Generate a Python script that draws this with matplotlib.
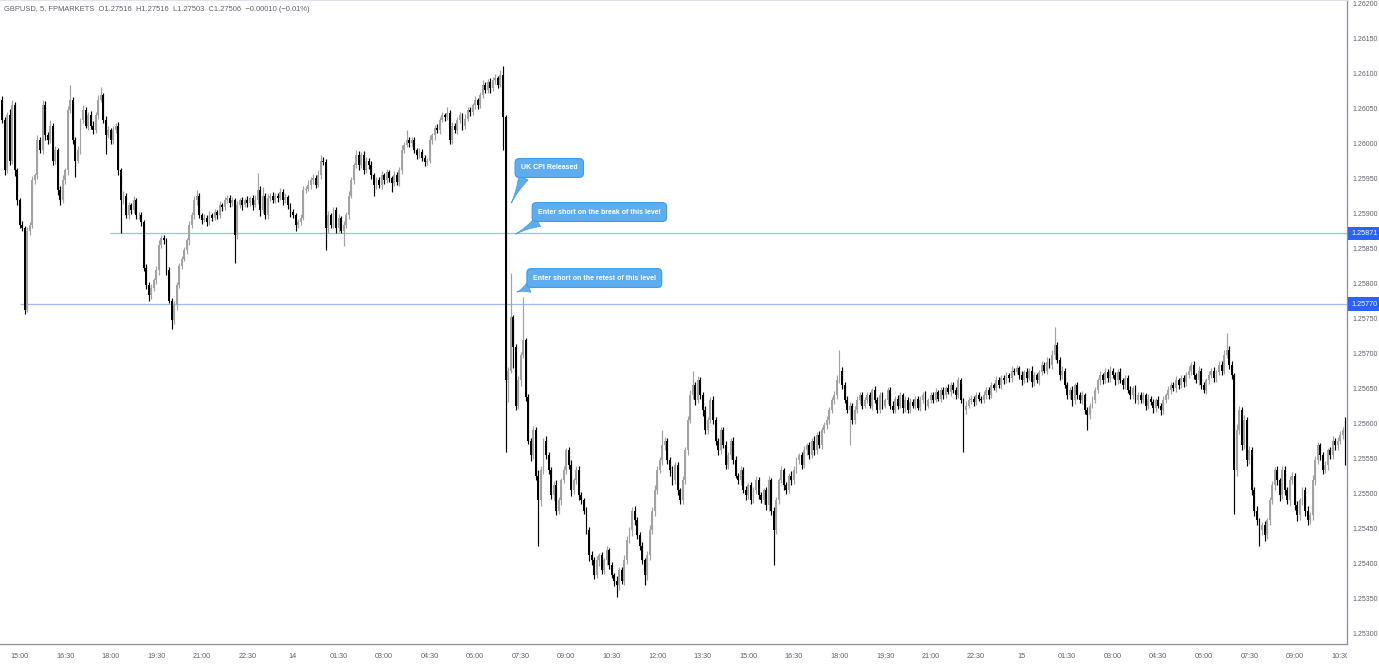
# -*- coding: utf-8 -*-

import numpy as np
import matplotlib
matplotlib.use('Agg')
import matplotlib.pyplot as plt
from matplotlib.transforms import Bbox, TransformedBbox, blended_transform_factory

#####################################################################################################
# Data: GBPUSD 5-minute candles, prices in 1e-5 above 1.25000 (871 -> 1.25871)

BASE = 1.25
OPEN_FIRST = 1061

CLOSE_PTS = [
    1033, 961, 1040, 975, 1054, 961, 918, 883, 878, 761, 875, 883, 947, 954, 1004, 990, 1054, 1011,
    1004, 1025, 975, 990, 933, 918, 947, 961, 1047, 1061, 1004, 975, 990, 1033, 1047, 1025, 1040, 1025,
    1018, 1040, 1061, 1068, 1033, 1011, 1018, 1004, 1018, 1025, 961, 918, 925, 897, 911, 904, 918, 897,
    897, 887, 821, 797, 783, 793, 804, 818, 854, 864, 861, 818, 775, 747, 768, 797, 825, 835,
    847, 861, 883, 897, 918, 925, 897, 890, 893, 887, 897, 893, 901, 897, 911, 908, 918, 922,
    914, 918, 868, 911, 918, 911, 918, 914, 921, 911, 918, 933, 904, 925, 897, 921, 925, 918,
    925, 921, 930, 918, 923, 911, 901, 897, 883, 887, 893, 933, 935, 940, 947, 950, 940, 954,
    975, 973, 878, 897, 883, 904, 878, 893, 875, 883, 897, 925, 947, 968, 983, 968, 983, 961,
    975, 968, 954, 940, 947, 940, 954, 947, 958, 950, 943, 954, 944, 961, 990, 997, 1004, 1000,
    1004, 990, 983, 987, 978, 973, 975, 1004, 1011, 1021, 1018, 1033, 1040, 1037, 1043, 1004, 1025, 1018,
    1033, 1040, 1025, 1035, 1047, 1044, 1054, 1061, 1054, 1068, 1083, 1076, 1087, 1078, 1090, 1093, 1083, 1097,
    1037, 661, 675, 751, 708, 625, 661, 697, 718, 637, 575, 554, 590, 525, 490, 533, 575, 554,
    533, 497, 511, 475, 490, 518, 533, 561, 540, 504, 518, 533, 497, 490, 475, 447, 411, 404,
    383, 404, 411, 390, 404, 418, 397, 383, 375, 368, 390, 375, 404, 433, 447, 475, 461, 440,
    425, 404, 383, 411, 447, 475, 504, 533, 547, 568, 575, 547, 533, 518, 540, 504, 490, 518,
    561, 604, 640, 654, 633, 661, 640, 618, 590, 604, 633, 604, 575, 561, 590, 568, 540, 554,
    575, 547, 525, 518, 533, 504, 497, 511, 490, 504, 518, 497, 490, 504, 483, 518, 475, 447,
    490, 518, 533, 511, 504, 525, 518, 533, 547, 554, 540, 561, 568, 554, 575, 561, 583, 568,
    590, 597, 604, 618, 633, 640, 661, 675, 654, 633, 618, 625, 604, 618, 633, 640, 625, 633,
    640, 625, 647, 633, 618, 640, 625, 633, 647, 625, 618, 635, 625, 640, 621, 633, 618, 630,
    625, 635, 621, 633, 640, 625, 633, 640, 633, 644, 635, 647, 640, 650, 644, 654, 647, 640,
    661, 633, 618, 625, 633, 635, 630, 640, 635, 633, 640, 647, 640, 654, 650, 661, 654, 664,
    661, 668, 664, 675, 673, 678, 668, 661, 673, 664, 675, 658, 668, 661, 673, 683, 675, 687,
    683, 697, 711, 690, 668, 675, 654, 640, 647, 633, 654, 640, 633, 640, 618, 611, 625, 633,
    647, 661, 668, 661, 673, 664, 675, 668, 661, 673, 661, 654, 664, 647, 640, 650, 633, 640,
    633, 640, 625, 635, 630, 621, 633, 625, 618, 633, 640, 647, 654, 650, 661, 654, 664, 658,
    668, 675, 683, 668, 661, 675, 654, 647, 661, 668, 675, 664, 673, 683, 675, 697, 704, 683,
    668, 533, 590, 618, 568, 604, 547, 561, 504, 475, 461, 447, 454, 440, 461, 490, 511, 533,
    518, 497, 533, 504, 490, 518, 525, 483, 468, 490, 504, 475, 461, 468, 518, 547, 568, 554,
    533, 540, 561, 554, 575, 568, 575, 583, 590, 544,
]

# wick length above max(open, close) and below min(open, close), same units
WICK_UP = [
    6, 4, 5, 8, 7, 5, 3, 4, 6, 3, 5, 4, 6, 3, 8, 5, 7, 6,
    5, 8, 4, 6, 3, 5, 7, 4, 6, 22, 5, 4, 6, 3, 7, 4, 5, 6,
    6, 5, 8, 12, 4, 5, 7, 3, 6, 4, 5, 3, 6, 4, 5, 3, 7, 4,
    5, 4, 3, 6, 4, 5, 3, 6, 8, 5, 4, 3, 5, 4, 6, 5, 4, 3,
    5, 4, 6, 5, 7, 8, 4, 3, 5, 4, 6, 3, 5, 4, 6, 3, 5, 4,
    4, 5, 3, 6, 4, 5, 3, 6, 4, 5, 8, 24, 5, 12, 4, 6, 3, 5,
    4, 3, 6, 4, 5, 3, 4, 5, 3, 4, 6, 5, 4, 7, 5, 6, 4, 8,
    8, 5, 4, 6, 3, 5, 4, 6, 3, 5, 4, 6, 5, 4, 7, 5, 4, 6,
    5, 4, 6, 3, 5, 4, 6, 3, 5, 4, 3, 6, 4, 5, 7, 5, 14, 4,
    5, 4, 3, 6, 4, 5, 3, 7, 4, 5, 6, 4, 5, 3, 8, 4, 5, 4,
    4, 5, 3, 6, 4, 5, 3, 6, 4, 5, 7, 4, 5, 6, 4, 5, 3, 8,
    13, 3, 5, 63, 4, 5, 6, 5, 62, 4, 5, 3, 6, 4, 8, 5, 4, 6,
    5, 4, 6, 8, 5, 4, 6, 3, 5, 7, 4, 6, 5, 4, 3, 5, 4, 6,
    5, 6, 4, 5, 3, 6, 4, 5, 3, 6, 4, 5, 8, 6, 4, 5, 7, 5,
    4, 5, 3, 6, 8, 5, 7, 6, 4, 22, 5, 4, 5, 6, 4, 5, 3, 6,
    5, 6, 7, 21, 4, 6, 5, 4, 6, 5, 4, 6, 5, 3, 5, 4, 6, 5,
    4, 5, 6, 3, 5, 4, 6, 3, 5, 4, 6, 5, 4, 3, 5, 6, 4, 5,
    5, 4, 6, 3, 5, 4, 6, 5, 4, 3, 5, 6, 4, 5, 3, 6, 4, 5,
    4, 5, 6, 5, 4, 6, 8, 29, 5, 4, 6, 5, 4, 6, 5, 4, 5, 4,
    4, 5, 3, 6, 4, 5, 4, 3, 5, 4, 6, 3, 5, 4, 3, 5, 4, 6,
    5, 4, 3, 5, 4, 6, 3, 5, 4, 6, 3, 5, 4, 3, 6, 4, 5, 4,
    5, 4, 3, 6, 4, 5, 3, 4, 5, 3, 6, 4, 5, 4, 3, 6, 5, 4,
    4, 5, 3, 6, 4, 5, 4, 6, 3, 5, 4, 6, 5, 4, 3, 6, 4, 8,
    6, 8, 26, 5, 4, 6, 3, 5, 4, 6, 3, 5, 4, 6, 3, 5, 4, 6,
    5, 4, 6, 3, 5, 4, 6, 3, 5, 4, 6, 3, 5, 4, 6, 3, 5, 4,
    4, 5, 3, 6, 4, 5, 3, 6, 4, 5, 3, 6, 4, 5, 6, 4, 5, 4,
    5, 6, 4, 5, 3, 6, 4, 5, 3, 6, 4, 5, 3, 6, 5, 8, 24, 6,
    6, 4, 8, 6, 5, 7, 4, 6, 5, 4, 6, 3, 5, 6, 4, 5, 6, 4,
    5, 4, 6, 5, 4, 6, 5, 4, 6, 3, 5, 4, 6, 5, 8, 6, 5, 4,
    5, 6, 4, 5, 6, 4, 5, 6, 4, 18,
]

WICK_DN = [
    5, 6, 4, 7, 5, 8, 6, 5, 4, 5, 3, 6, 4, 5, 6, 4, 5, 6,
    5, 4, 6, 5, 7, 6, 4, 5, 6, 4, 5, 24, 4, 6, 5, 4, 6, 5,
    5, 4, 6, 3, 5, 26, 4, 6, 5, 4, 6, 47, 5, 4, 6, 5, 4, 6,
    5, 6, 4, 5, 8, 6, 4, 5, 6, 4, 5, 6, 4, 13, 5, 6, 4, 5,
    4, 5, 6, 4, 5, 6, 4, 5, 3, 6, 4, 5, 3, 6, 4, 5, 3, 4,
    5, 4, 40, 5, 4, 6, 3, 5, 4, 6, 3, 5, 8, 4, 6, 5, 4, 3,
    4, 5, 3, 6, 4, 5, 6, 4, 8, 5, 4, 3, 5, 4, 6, 5, 4, 3,
    5, 4, 31, 6, 5, 4, 6, 5, 4, 22, 5, 6, 4, 5, 3, 6, 4, 5,
    4, 5, 6, 15, 5, 4, 6, 5, 4, 6, 13, 5, 4, 6, 5, 4, 3, 5,
    5, 4, 6, 5, 4, 6, 5, 4, 5, 6, 4, 5, 3, 6, 4, 5, 6, 4,
    5, 4, 6, 5, 3, 5, 4, 6, 5, 4, 3, 5, 4, 6, 3, 5, 4, 3,
    47, 103, 31, 4, 30, 6, 5, 8, 4, 6, 5, 8, 6, 7, 65, 8, 6, 5,
    6, 5, 8, 6, 5, 7, 4, 6, 5, 8, 6, 5, 7, 6, 5, 6, 8, 7,
    6, 5, 8, 6, 5, 7, 6, 5, 8, 17, 6, 5, 7, 6, 5, 8, 6, 5,
    6, 5, 15, 7, 6, 5, 8, 6, 5, 7, 6, 5, 8, 6, 5, 7, 6, 5,
    5, 6, 4, 5, 7, 5, 6, 8, 5, 6, 4, 5, 7, 6, 5, 4, 6, 5,
    5, 6, 4, 5, 6, 4, 7, 5, 6, 4, 5, 6, 4, 5, 7, 8, 6, 50,
    6, 5, 4, 6, 5, 4, 6, 5, 4, 6, 5, 4, 6, 5, 4, 6, 5, 4,
    5, 4, 6, 5, 4, 6, 5, 4, 6, 5, 4, 50, 6, 5, 4, 6, 5, 4,
    5, 4, 6, 5, 4, 3, 5, 4, 6, 5, 4, 3, 5, 4, 6, 5, 4, 3,
    4, 5, 3, 4, 5, 6, 3, 4, 5, 3, 4, 5, 6, 4, 3, 5, 4, 5,
    4, 5, 60, 5, 4, 6, 5, 4, 3, 5, 4, 6, 5, 4, 3, 5, 4, 6,
    5, 4, 6, 5, 4, 3, 5, 6, 4, 5, 3, 6, 5, 4, 6, 5, 4, 5,
    4, 6, 5, 4, 6, 5, 4, 6, 5, 8, 6, 5, 4, 6, 5, 21, 5, 4,
    5, 4, 6, 5, 4, 6, 5, 4, 6, 5, 4, 6, 5, 4, 6, 5, 4, 6,
    5, 4, 6, 5, 4, 6, 5, 4, 6, 5, 4, 6, 5, 4, 6, 5, 4, 6,
    5, 4, 6, 5, 4, 6, 5, 4, 6, 5, 4, 6, 5, 4, 6, 5, 4, 6,
    5, 63, 8, 6, 7, 5, 8, 6, 7, 8, 6, 22, 7, 8, 6, 7, 5, 6,
    6, 8, 5, 7, 6, 8, 5, 7, 8, 6, 7, 8, 6, 5, 7, 6, 5, 7,
    6, 5, 7, 6, 5, 7, 6, 5, 6, 4,
]

# x axis: a label every 18 bars, first one on bar 7
TIME_LABELS = ["15:00", "16:30", "18:00", "19:30", "21:00", "22:30", "14", "01:30", "03:00",
               "04:30", "06:00", "07:30", "09:00", "10:30", "12:00", "13:30", "15:00", "16:30",
               "18:00", "19:30", "21:00", "22:30", "15", "01:30", "03:00", "04:30", "06:00",
               "07:30", "09:00", "10:30"]
FIRST_LABEL_BAR = 7
BARS_PER_LABEL = 18

# horizontal levels (price, first bar of the line)
LEVELS = [(1.25871, 42.6), (1.25770, 7.1)]

# callouts: text, (bar, price) of the box, (bar, price) the tail points at
CALLOUTS = [
    ("UK CPI Released", (216.3, 1.259643), (201.3, 1.259143)),
    ("Enter short on the break of this level", (236.1, 1.259014), (203.0, 1.258700)),
    ("Enter short on the retest of this level", (234.1, 1.258071), (203.5, 1.257871)),
]

HEADER = "GBPUSD, 5, FPMARKETS  O1.27516  H1.27516  L1.27503  C1.27506  \u22120.00010 (\u22120.01%)"

UP_COLOR = '#a2a2a2'
DOWN_COLOR = '#000000'
LEVEL_COLOR = '#9fbaf3'
LABEL_BLUE = '#2962ff'
CALLOUT_FC = '#5eaeef'
CALLOUT_EC = '#3f9be6'
TEXT_GREY = '#5d606b'

plt.rcParams['font.family'] = ['Liberation Sans', 'DejaVu Sans']

#-----------------------------------------------------


def build_ohlc():
    n = min(len(CLOSE_PTS), len(WICK_UP), len(WICK_DN))
    close = np.array(CLOSE_PTS[:n], dtype=float)
    open_ = np.concatenate([[OPEN_FIRST], close[:-1]])
    top = np.maximum(open_, close)
    bot = np.minimum(open_, close)
    high = top + np.array(WICK_UP[:n])
    low = bot - np.array(WICK_DN[:n])
    to_price = lambda a: BASE + a / 1e5
    return to_price(open_), to_price(high), to_price(low), to_price(close)


def draw_candles(ax, o, h, l, c):
    x = np.arange(len(c))
    colors = np.where(c >= o, UP_COLOR, DOWN_COLOR)
    ax.vlines(x, l, h, colors=colors, linewidth=0.85, zorder=3)
    height = np.maximum(np.abs(c - o), 0.6e-5)
    ax.bar(x, height, bottom=np.minimum(o, c), width=0.75, color=colors,
           linewidth=0, zorder=4)


def draw_levels(ax, n):
    for price, start in LEVELS:
        ax.hlines(price, start, n + 5, color=LEVEL_COLOR, linewidth=0.9, zorder=2)
        ax.annotate('%.5f' % price, xy=(1.0, price), xycoords=('axes fraction', 'data'),
                    xytext=(3.4, 0), textcoords='offset points', ha='left', va='center',
                    fontsize=5.2, color='white', annotation_clip=False,
                    bbox=dict(boxstyle='square,pad=0.45', fc=LABEL_BLUE, ec='none'))


def draw_callouts(ax):
    for text, box, tip in CALLOUTS:
        ax.annotate(text, xy=tip, xytext=box, ha='center', va='center',
                    fontsize=5.0, fontweight='bold', color='white', zorder=6,
                    bbox=dict(boxstyle='round,pad=0.85,rounding_size=0.6',
                              fc=CALLOUT_FC, ec=CALLOUT_EC, lw=0.8),
                    arrowprops=dict(arrowstyle='wedge,tail_width=1.5,shrink_factor=0.3',
                                    fc=CALLOUT_FC, ec=CALLOUT_EC, lw=0.5,
                                    relpos=(0.1, 0.05), shrinkA=0, shrinkB=0))


def format_axes(fig, ax, n):
    ax.set_xlim(-0.8, 531.6)
    ax.set_ylim(1.252843, 1.2620429)

    ax.spines['left'].set_visible(False)
    ax.spines['top'].set_color('#e0e3eb')
    ax.spines['right'].set_color('#8c8f99')
    ax.spines['bottom'].set_color('#8c8f99')
    ax.spines['right'].set_linewidth(0.9)
    ax.spines['bottom'].set_linewidth(0.9)

    # price scale on the right
    ax.yaxis.tick_right()
    ticks = np.arange(1.2530, 1.26201, 0.0005)
    ax.set_yticks(ticks)
    ax.set_yticklabels(['%.5f' % t for t in ticks])
    ax.tick_params(axis='y', length=0, pad=4.2, labelsize=5.0, labelcolor=TEXT_GREY)

    # time scale: drawn as text so the last label can be clipped at the price scale
    ax.set_xticks([])
    clip = TransformedBbox(Bbox([[0, 0], [0.9768, 0.03]]), fig.transFigure)
    trans = blended_transform_factory(ax.transData, ax.transAxes)
    for k, label in enumerate(TIME_LABELS):
        bar = FIRST_LABEL_BAR + k * BARS_PER_LABEL
        t = ax.text(bar, -0.0195, label, transform=trans, ha='center', va='center',
                    fontsize=5.2, color=TEXT_GREY)
        t.set_clip_box(clip)
        t.set_clip_on(True)

    fig.text(0.003, 0.986, HEADER, ha='left', va='center', fontsize=5.4, color=TEXT_GREY)


def make_chart(filename='out.png'):
    fig = plt.figure(figsize=(13.79, 6.64), dpi=100)
    ax = fig.add_axes([0.0, 0.0301, 0.9768, 0.9699])
    o, h, l, c = build_ohlc()
    n = len(c)
    draw_candles(ax, o, h, l, c)
    draw_levels(ax, n)
    draw_callouts(ax)
    format_axes(fig, ax, n)
    fig.savefig(filename, dpi=100, facecolor='white')
    plt.close(fig)


if __name__ == "__main__":
    make_chart()
